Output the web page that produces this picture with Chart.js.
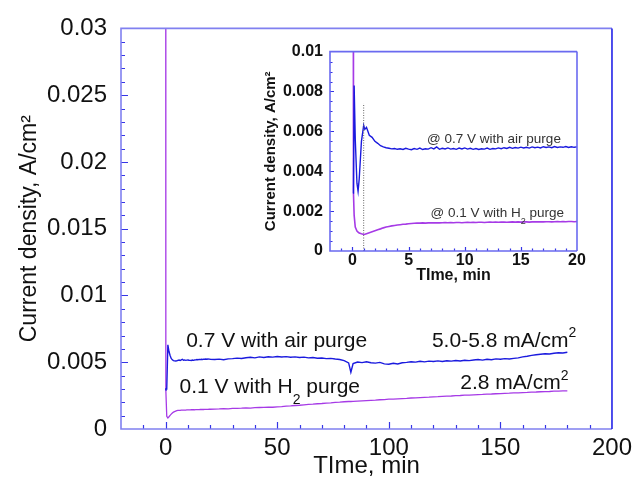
<!DOCTYPE html>
<html>
<head>
<meta charset="utf-8">
<script src="https://cdn.jsdelivr.net/npm/chart.js@4.4.0/dist/chart.umd.min.js"></script>
<style>
  html, body { margin: 0; padding: 0; background: #fff; }
  #wrap { position: relative; width: 637px; height: 482px; overflow: hidden; }
  #mainChart { position: absolute; left: 0; top: 0; }
  #insetChart { position: absolute; left: 250px; top: 35px; }
</style>
</head>
<body>
<div id="wrap">
  <canvas id="mainChart" width="637" height="482"></canvas>
  <canvas id="insetChart" width="340" height="260"></canvas>
</div>
<script>
// 前 20 分鐘 (放大圖 + 主圖開頭)
const tEarly = [0.05, 0.08, 0.1, 0.15, 0.25, 0.4, 0.5, 0.6, 0.8, 1.0, 1.1, 1.25, 1.5, 1.75, 2.0, 2.25, 2.5, 2.75,
  3, 3.25, 3.5, 3.75, 4, 4.25, 4.5, 4.75, 5, 5.25, 5.5, 5.75, 6, 6.25, 6.5, 6.75, 7, 7.25, 7.5, 7.75,
  8, 8.25, 8.5, 8.75, 9, 9.25, 9.5, 9.75, 10, 10.25, 10.5, 10.75, 11, 11.25, 11.5, 11.75, 12, 12.25, 12.5, 12.75,
  13, 13.25, 13.5, 13.75, 14, 14.25, 14.5, 14.75, 15, 15.25, 15.5, 15.75, 16, 16.25, 16.5, 16.75,
  17, 17.25, 17.5, 17.75, 18, 18.25, 18.5, 18.75, 19, 19.25, 19.5, 19.75, 20];

// 0.7 V, air purge
const airEarly = [0.0029, 0.0029, 0.0030, 0.0083, 0.0056, 0.0034, 0.0030, 0.0036, 0.0055, 0.0063, 0.0061, 0.0062, 0.0058, 0.0057, 0.0055, 0.0054, 0.00528, 0.00522,
  0.00518, 0.00515, 0.00512, 0.00514, 0.00510, 0.00513, 0.00509, 0.00515, 0.00511, 0.00508, 0.00514, 0.00510, 0.00516, 0.00509, 0.00513, 0.00511, 0.00518, 0.00512, 0.00522, 0.00510,
  0.00515, 0.00512, 0.00517, 0.00511, 0.00514, 0.00510, 0.00516, 0.00512, 0.00517, 0.00511, 0.00515, 0.00510, 0.00514, 0.00509, 0.00513, 0.00511, 0.00516, 0.00510, 0.00514, 0.00512,
  0.00517, 0.00513, 0.00518, 0.00514, 0.00520, 0.00515, 0.00519, 0.00516, 0.00521, 0.00517, 0.00520, 0.00516, 0.00522, 0.00518, 0.00521, 0.00517,
  0.00523, 0.00519, 0.00522, 0.00518, 0.00524, 0.00519, 0.00522, 0.00520, 0.00524, 0.00519, 0.00523, 0.00520, 0.00522];

// 0.1 V, H2 purge
const h2Early = [0.034, 0.032, 0.0029, 0.0018, 0.0012, 0.00100, 0.00095, 0.00090, 0.00086, 0.00083, 0.00084, 0.00087, 0.00092, 0.00097, 0.00102, 0.00107, 0.00111, 0.00116,
  0.00120, 0.00123, 0.00126, 0.00128, 0.00130, 0.00132, 0.00134, 0.00135, 0.00137, 0.00138, 0.00139, 0.00140, 0.00140, 0.00141, 0.00140, 0.00141, 0.00142, 0.00141, 0.00142, 0.00141,
  0.00142, 0.00143, 0.00142, 0.00143, 0.00142, 0.00143, 0.00143, 0.00142, 0.00143, 0.00144, 0.00143, 0.00144, 0.00143, 0.00144, 0.00144, 0.00143, 0.00144, 0.00145, 0.00144, 0.00145,
  0.00144, 0.00145, 0.00145, 0.00144, 0.00145, 0.00146, 0.00145, 0.00146, 0.00145, 0.00146, 0.00146, 0.00145, 0.00146, 0.00147, 0.00146, 0.00147,
  0.00146, 0.00147, 0.00147, 0.00146, 0.00147, 0.00148, 0.00147, 0.00148, 0.00147, 0.00148, 0.00148, 0.00147, 0.00148];

// 20 分鐘以後 (主圖)
const tLate = [22, 24, 26, 28, 30, 32, 34, 36, 38, 40, 42, 44, 46, 48, 50, 52, 54, 56, 58, 60,
  62, 64, 66, 68, 70, 72, 74, 76, 78, 80, 82, 83, 84, 86, 88, 90, 92, 94, 96, 98, 100,
  102, 104, 106, 108, 110, 112, 114, 116, 118, 120, 122, 124, 126, 128, 130, 132, 134, 136, 138, 140,
  142, 144, 146, 148, 150, 152, 154, 156, 158, 160, 162, 164, 166, 168, 170, 172, 174, 176, 178, 180];

const airLate = [0.00520, 0.00523, 0.00519, 0.00525, 0.00527, 0.00531, 0.00528, 0.00534, 0.00537, 0.00533, 0.00540, 0.00536, 0.00541, 0.00538, 0.00543, 0.00539, 0.00542, 0.00537, 0.00540, 0.00536,
  0.00538, 0.00533, 0.00535, 0.00530, 0.00532, 0.00527, 0.00529, 0.00524, 0.00520, 0.00512, 0.00495, 0.00425, 0.00490, 0.00502, 0.00497, 0.00504, 0.00496, 0.00493, 0.00499, 0.00488, 0.00485,
  0.00492, 0.00487, 0.00496, 0.00499, 0.00504, 0.00501, 0.00507, 0.00503, 0.00508, 0.00505, 0.00510, 0.00506, 0.00511, 0.00508, 0.00513, 0.00509, 0.00515, 0.00512, 0.00517, 0.00520,
  0.00516, 0.00522, 0.00519, 0.00525, 0.00522, 0.00527, 0.00524, 0.00529, 0.00533, 0.00540, 0.00545, 0.00551, 0.00556, 0.00560, 0.00564, 0.00562, 0.00567, 0.00571, 0.00569, 0.00575];

const h2Late = [0.00149, 0.00150, 0.00152, 0.00151, 0.00154, 0.00155, 0.00156, 0.00158, 0.00157, 0.00160, 0.00161, 0.00162, 0.00164, 0.00163, 0.00166, 0.00168, 0.00171, 0.00173, 0.00176, 0.00178,
  0.00181, 0.00184, 0.00186, 0.00189, 0.00191, 0.00194, 0.00196, 0.00199, 0.00201, 0.00204, 0.00206, 0.00206, 0.00207, 0.00209, 0.00211, 0.00213, 0.00215, 0.00216, 0.00219, 0.00220, 0.00223,
  0.00224, 0.00226, 0.00228, 0.00229, 0.00232, 0.00233, 0.00235, 0.00237, 0.00238, 0.00241, 0.00242, 0.00244, 0.00246, 0.00247, 0.00250, 0.00251, 0.00253, 0.00254, 0.00256, 0.00258,
  0.00259, 0.00261, 0.00262, 0.00264, 0.00265, 0.00267, 0.00268, 0.00270, 0.00271, 0.00273, 0.00274, 0.00276, 0.00277, 0.00279, 0.00280, 0.00281, 0.00283, 0.00284, 0.00285, 0.00286];

// 虛線 (t = 1 min)
const dotX = [1, 1];
const dotY = [0, 0.0074];

// 刻度
const xTicksMain = [0, 50, 100, 150, 200];
const xLabelsMain = ['0', '50', '100', '150', '200'];
const yTicksMain = [0, 0.005, 0.01, 0.015, 0.02, 0.025, 0.03];
const yLabelsMain = ['0', '0.005', '0.01', '0.015', '0.02', '0.025', '0.03'];
const xTicksInset = [0, 5, 10, 15, 20];
const xLabelsInset = ['0', '5', '10', '15', '20'];
const yTicksInset = [0, 0.002, 0.004, 0.006, 0.008, 0.01];
const yLabelsInset = ['0', '0.002', '0.004', '0.006', '0.008', '0.01'];

const FONT = 'Liberation Sans, Arial, sans-serif';
const BLUE = '#1a1ade';
const PURPLE = '#a63ae6';

function pts(xs, ys) {
    return xs.map((v, i) => ({x: v, y: ys[i]}));
}

// 主圖的取樣較粗 (每 0.5 min), 放大圖用全部的點
function coarse(xs, ys) {
    const out = [];
    xs.forEach((v, i) => {
        if (v <= 0.1 || Math.abs(v * 2 - Math.round(v * 2)) < 1e-9) out.push({x: v, y: ys[i]});
    });
    return out;
}

// 框線 + 內側刻度
const frameTicks = {
    id: 'frameTicks',
    afterDatasetsDraw(chart, args, o) {
        const {ctx, chartArea: a, scales: {x, y}} = chart;
        ctx.save();
        ctx.strokeStyle = o.tickColor;
        ctx.lineWidth = 1.2;
        ctx.beginPath();
        let n = Math.round((x.max - x.min) / o.xMinor);
        for (let i = 1; i < n; i++) {
            const v = x.min + i * o.xMinor;
            const big = o.xMajor.some(m => Math.abs(m - v) < 1e-9);
            const px = Math.round(x.getPixelForValue(v)) + 0.5;
            ctx.moveTo(px, a.bottom);
            ctx.lineTo(px, a.bottom - (big ? o.majorLen : o.minorLen));
        }
        n = Math.round((y.max - y.min) / o.yMinor);
        for (let i = 1; i < n; i++) {
            const v = y.min + i * o.yMinor;
            const big = o.yMajor.some(m => Math.abs(m - v) < 1e-9);
            const py = Math.round(y.getPixelForValue(v)) + 0.5;
            ctx.moveTo(a.left, py);
            ctx.lineTo(a.left + (big ? o.majorLen : o.minorLen), py);
        }
        ctx.stroke();

        ctx.lineWidth = 1.6;
        ctx.strokeStyle = o.frameColor;
        ctx.beginPath();
        ctx.moveTo(a.right, a.top);
        ctx.lineTo(a.left, a.top);
        ctx.lineTo(a.left, a.bottom);
        ctx.lineTo(a.right, a.bottom);
        ctx.stroke();
        ctx.strokeStyle = o.rightColor;
        ctx.beginPath();
        ctx.moveTo(a.right, a.top);
        ctx.lineTo(a.right, a.bottom);
        ctx.stroke();
        ctx.restore();
    }
};

// 圖上文字 (含上下標)
const notes = {
    id: 'notes',
    afterDatasetsDraw(chart, args, o) {
        const {ctx, scales: {x, y}} = chart;
        ctx.save();
        ctx.fillStyle = o.color;
        ctx.textBaseline = 'middle';
        ctx.textAlign = 'left';
        const big = o.size + 'px ' + FONT;
        const small = Math.round(o.size * 0.68) + 'px ' + FONT;
        o.items.forEach(it => {
            let w = 0;
            it.parts.forEach(p => { ctx.font = p[1] ? small : big; w += ctx.measureText(p[0]).width; });
            let cx = x.getPixelForValue(it.x);
            if (it.align === 'right') cx -= w;
            const cy = y.getPixelForValue(it.y);
            it.parts.forEach(p => {
                ctx.font = p[1] ? small : big;
                let dy = 0;
                if (p[1] === 'sub') dy = o.size * 0.62;
                if (p[1] === 'sup') dy = -o.size * 0.36;
                ctx.fillText(p[0], cx, cy + dy);
                cx += ctx.measureText(p[0]).width;
            });
        });
        ctx.restore();
    }
};

const notesMain = [
    {x: 9.2, y: 0.00658, align: 'left', parts: [['0.7 V with air purge', '']]},
    {x: 6.2, y: 0.00312, align: 'left', parts: [['0.1 V with H', ''], ['2', 'sub'], [' purge', '']]},
    {x: 184, y: 0.00658, align: 'right', parts: [['5.0-5.8 mA/cm', ''], ['2', 'sup']]},
    {x: 180.5, y: 0.0034, align: 'right', parts: [['2.8 mA/cm', ''], ['2', 'sup']]}
];
const notesInset = [
    {x: 6.65, y: 0.0056, align: 'left', parts: [['@ 0.7 V with air purge', '']]},
    {x: 6.95, y: 0.0019, align: 'left', parts: [['@ 0.1 V with H', ''], ['2', 'sub'], [' purge', '']]}
];

function draw_main() {
    const ctx = document.getElementById('mainChart').getContext('2d');
    new Chart(ctx, {
        type: 'line',
        data: {
            datasets: [
                {data: coarse(tEarly, airEarly).concat(pts(tLate, airLate)), borderColor: BLUE, borderWidth: 1.4},
                {data: coarse(tEarly, h2Early).concat(pts(tLate, h2Late)), borderColor: PURPLE, borderWidth: 1.3}
            ]
        },
        options: {
            responsive: false,
            animation: false,
            parsing: false,
            elements: {point: {radius: 0}, line: {tension: 0}},
            layout: {padding: {left: 10, right: 23, top: 25, bottom: 0}},
            plugins: {
                legend: {display: false},
                tooltip: {enabled: false},
                frameTicks: {
                    xMinor: 10, yMinor: 0.001, xMajor: xTicksMain, yMajor: yTicksMain,
                    majorLen: 7, minorLen: 4,
                    tickColor: '#3535e6', frameColor: '#8080f0', rightColor: '#2424e8'
                },
                notes: {items: notesMain, size: 21, color: '#111'}
            },
            scales: {
                x: {
                    type: 'linear', min: -20, max: 200,
                    grid: {display: false, drawTicks: false},
                    border: {display: false},
                    afterBuildTicks: s => { s.ticks = xTicksMain.map(v => ({value: v})); },
                    afterFit: s => { s.height = 53; },
                    ticks: {
                        padding: 5, color: '#111', maxRotation: 0,
                        font: {family: FONT, size: 24},
                        callback: (v, i) => xLabelsMain[i]
                    },
                    title: {
                        display: true, text: 'TIme, min', color: '#111',
                        font: {family: FONT, size: 24}, padding: {top: 0, bottom: 1}
                    }
                },
                y: {
                    type: 'linear', min: 0, max: 0.03,
                    grid: {display: false, drawTicks: false},
                    border: {display: false},
                    afterBuildTicks: s => { s.ticks = yTicksMain.map(v => ({value: v})); },
                    afterFit: s => { s.width = 111; },
                    ticks: {
                        padding: 14, color: '#111',
                        font: {family: FONT, size: 24},
                        callback: (v, i) => yLabelsMain[i]
                    },
                    title: {
                        display: true, text: 'Current density, A/cm²', color: '#111',
                        font: {family: FONT, size: 23}, padding: {top: 6, bottom: 0}
                    }
                }
            }
        },
        plugins: [frameTicks, notes]
    });
}

function draw_inset() {
    const ctx = document.getElementById('insetChart').getContext('2d');
    new Chart(ctx, {
        type: 'line',
        data: {
            datasets: [
                {data: pts(dotX, dotY), borderColor: '#666', borderWidth: 1, borderDash: [1, 1.5]},
                {data: pts(tEarly, airEarly), borderColor: BLUE, borderWidth: 1.4},
                {data: pts(tEarly, h2Early), borderColor: PURPLE, borderWidth: 1.6}
            ]
        },
        options: {
            responsive: false,
            animation: false,
            parsing: false,
            elements: {point: {radius: 0}, line: {tension: 0}},
            layout: {padding: {left: 4, right: 13, top: 14, bottom: 0}},
            plugins: {
                legend: {display: false},
                tooltip: {enabled: false},
                frameTicks: {
                    xMinor: 1, yMinor: 0.0005, xMajor: xTicksInset, yMajor: yTicksInset,
                    majorLen: 4, minorLen: 2.5,
                    tickColor: '#3535e6', frameColor: '#6a6af0', rightColor: '#6a6af0'
                },
                notes: {items: notesInset, size: 13.5, color: '#333'}
            },
            scales: {
                x: {
                    type: 'linear', min: -2, max: 20,
                    grid: {display: false, drawTicks: false},
                    border: {display: false},
                    afterBuildTicks: s => { s.ticks = xTicksInset.map(v => ({value: v})); },
                    afterFit: s => { s.height = 44; },
                    ticks: {
                        padding: 0, color: '#111', maxRotation: 0,
                        font: {family: FONT, size: 16, weight: 'bold'},
                        callback: (v, i) => xLabelsInset[i]
                    },
                    title: {
                        display: true, text: 'TIme, min', color: '#111',
                        font: {family: FONT, size: 16, weight: 'bold'}, padding: {top: 0, bottom: 10}
                    }
                },
                y: {
                    type: 'linear', min: 0, max: 0.01,
                    grid: {display: false, drawTicks: false},
                    border: {display: false},
                    afterBuildTicks: s => { s.ticks = yTicksInset.map(v => ({value: v})); },
                    afterFit: s => { s.width = 76; },
                    ticks: {
                        padding: 7, color: '#111',
                        font: {family: FONT, size: 16, weight: 'bold'},
                        callback: (v, i) => yLabelsInset[i]
                    },
                    title: {
                        display: true, text: 'Current density, A/cm²', color: '#111',
                        font: {family: FONT, size: 15, weight: 'bold'}, padding: {top: 8, bottom: 0}
                    }
                }
            }
        },
        plugins: [frameTicks, notes]
    });
}

draw_main();
draw_inset();
</script>
</body>
</html>
